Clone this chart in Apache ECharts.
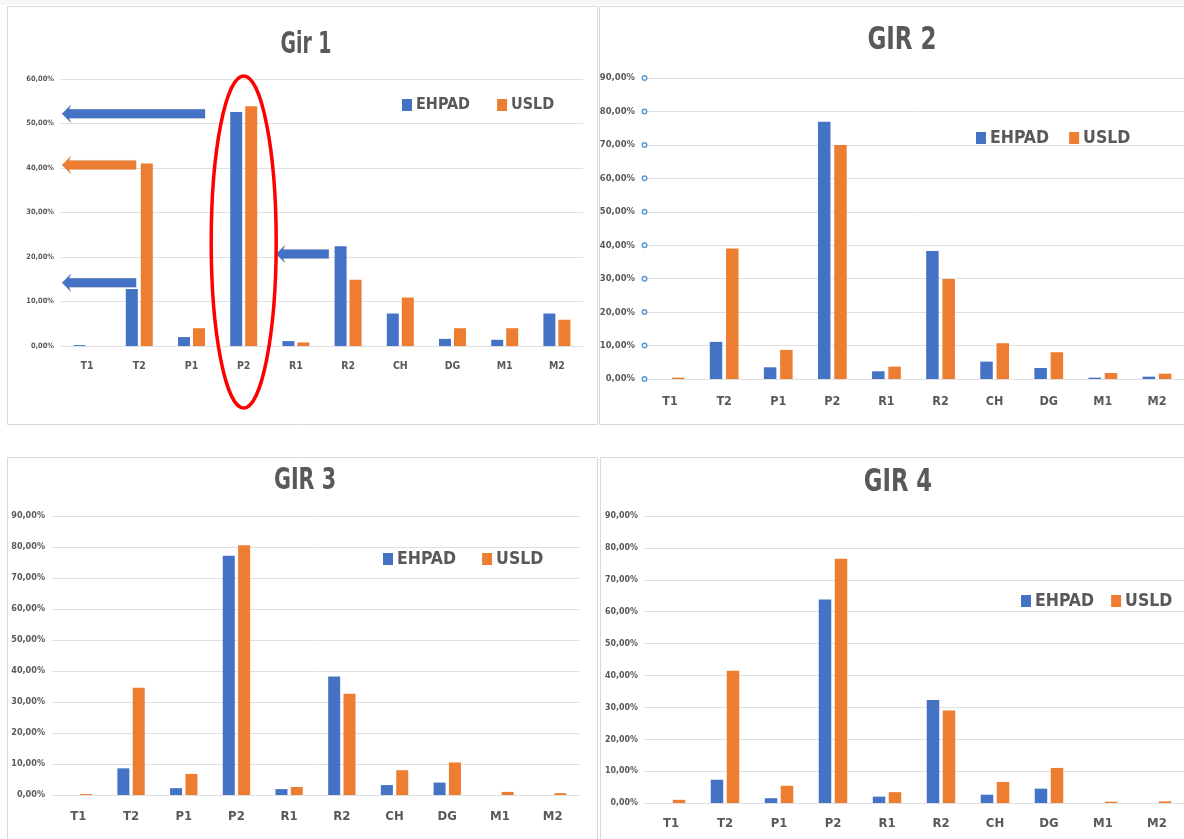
<!DOCTYPE html>
<html>
<head>
<meta charset="utf-8">
<script src="https://cdn.jsdelivr.net/npm/echarts@6/dist/echarts.min.js"></script>
<style>
html,body{margin:0;padding:0;background:#fff;}
#chart{width:1184px;height:839px;}
</style>
</head>
<body>
<div id="chart"></div>
<script>
// ---------- data ----------
const categories = ['T1','T2','P1','P2','R1','R2','CH','DG','M1','M2'];
const seriesNames = ['EHPAD','USLD'];
const panelTitles = ['Gir 1','GIR 2','GIR 3','GIR 4'];
const axisMax = [60, 90, 90, 90];
const axisStep = [10, 10, 10, 10];

const gir1Ehpad = [0.2, 12.8, 2.0, 52.6, 1.1, 22.4, 7.3, 1.6, 1.4, 7.3];
const gir1Usld  = [0.0, 41.0, 4.0, 53.9, 0.8, 14.9, 10.9, 4.0, 4.0, 5.9];
const gir2Ehpad = [0.0, 11.1, 3.5, 76.9, 2.3, 38.3, 5.2, 3.3, 0.4, 0.7];
const gir2Usld  = [0.4, 39.0, 8.7, 70.0, 3.7, 29.9, 10.7, 8.0, 1.8, 1.6];
const gir3Ehpad = [0.0, 8.6, 2.2, 77.2, 1.9, 38.2, 3.2, 4.0, 0.0, 0.0];
const gir3Usld  = [0.3, 34.6, 6.8, 80.6, 2.6, 32.7, 8.0, 10.5, 1.0, 0.6];
const gir4Ehpad = [0.0, 7.3, 1.5, 63.8, 2.0, 32.3, 2.6, 4.5, 0.0, 0.0];
const gir4Usld  = [1.0, 41.5, 5.4, 76.6, 3.4, 29.0, 6.6, 11.0, 0.4, 0.5];

// annotation arrows on Gir 1: level (%), colour key, tail category, tip category
const gir1ArrowLevels = [52.2, 40.7, 14.2, 20.7];
const gir1ArrowColors = ['blue', 'orange', 'blue', 'blue'];
const gir1ArrowTail   = ['P2', 'T2', 'T2', 'R2'];
const gir1ArrowTip    = ['axis', 'axis', 'axis', 'R1'];
const gir1Highlight = 'P2';

// ---------- styles ----------
const FONT = "'DejaVu Sans Condensed','Liberation Sans Narrow','Open Sans',sans-serif";
const BLUE = '#4472C4', ORANGE = '#ED7D31', TXT = '#595959', GRID = '#E0E0E0';
const colorMap = {blue: BLUE, orange: ORANGE};

const layout = [
  {grid:{left:61, top:79, width:522, height:267}, yFont:7.4, yMargin:7, xFont:10.5, xMargin:15, bw:12, gap:'25%',
   title:{x:306, y:45, size:30, sx:0.7}, legend:{left:397, top:92, size:16, gap:27}, ring:false},
  {grid:{left:643, top:78, width:552, height:301}, yFont:9.4, yMargin:-3, xFont:12.5, xMargin:16, bw:12.5, gap:'30%',
   title:{x:902, y:41, size:32, sx:0.8}, legend:{left:971, top:124, size:17.5, gap:20}, ring:true},
  {grid:{left:52, top:516, width:527, height:279}, yFont:9, yMargin:7, xFont:13, xMargin:15, bw:12, gap:'28%',
   title:{x:305, y:481, size:31, sx:0.74}, legend:{left:378, top:545, size:17.5, gap:26}, ring:false},
  {grid:{left:644, top:516, width:544, height:287}, yFont:8.8, yMargin:6, xFont:13, xMargin:14.5, bw:12.5, gap:'28%',
   title:{x:898, y:483, size:32, sx:0.79}, legend:{left:1016, top:587, size:17.5, gap:17}, ring:false}
];
const panelData = [[gir1Ehpad, gir1Usld],[gir2Ehpad, gir2Usld],[gir3Ehpad, gir3Usld],[gir4Ehpad, gir4Usld]];

function fmt(v){ return v.toFixed(2).replace('.', ',') + '%'; }

const option = {
  animation: false,
  backgroundColor: '#fff',
  grid: [], xAxis: [], yAxis: [], series: [], legend: []
};

layout.forEach((L, i) => {
  option.grid.push(Object.assign({containLabel:false}, L.grid));
  option.xAxis.push({
    type:'category', gridIndex:i, data:categories,
    axisTick:{show:false},
    axisLine:{lineStyle:{color:GRID, width:1}},
    axisLabel:{color:TXT, fontFamily:FONT, fontWeight:'bold', fontSize:L.xFont, margin:L.xMargin, interval:0}
  });
  const yLabel = {color:TXT, fontFamily:FONT, fontWeight:'bold', fontSize:L.yFont, margin:L.yMargin};
  if (L.ring) {
    yLabel.formatter = v => '{v|' + fmt(v) + '}{g|}{c|}';
    yLabel.rich = {
      v:{color:TXT, fontFamily:FONT, fontWeight:'bold', fontSize:L.yFont},
      g:{width:8},
      c:{width:3, height:3, borderColor:'#5B9BD5', borderWidth:1.5, borderRadius:4, backgroundColor:'#fff'}
    };
  } else {
    yLabel.formatter = v => fmt(v);
  }
  option.yAxis.push({
    type:'value', gridIndex:i, min:0, max:axisMax[i], interval:axisStep[i],
    axisLine:{show:false}, axisTick:{show:false},
    splitLine:{lineStyle:{color:GRID, width:1}},
    axisLabel:yLabel
  });
  seriesNames.forEach((nm, k) => {
    option.series.push({
      name:nm, type:'bar', xAxisIndex:i, yAxisIndex:i,
      data:panelData[i][k], barWidth:L.bw, barGap:L.gap,
      itemStyle:{color: k===0 ? BLUE : ORANGE},
      emphasis:{disabled:true}
    });
  });
  option.legend.push({
    data:seriesNames, left:L.legend.left, top:L.legend.top, orient:'horizontal', width:400,
    icon:'rect', itemWidth:10, itemHeight:12, itemGap:L.legend.gap,
    textStyle:{color:TXT, fontFamily:FONT, fontWeight:'bold', fontSize:L.legend.size, padding:[0,0,0,-1]},
    selectedMode:false
  });
});

const chart = echarts.init(document.getElementById('chart'), null, {renderer:'canvas'});
chart.setOption(option);

// ---------- decorations (frames, titles, Gir 1 annotations) ----------
const els = [];
els.push({type:'rect', shape:{x:0, y:0, width:1184, height:5}, style:{fill:'#F6F6F6'}, z:0});
[[7.5,6.5,590,418],[599.5,6.5,600,418],[7.5,457.5,590,400],[600.5,457.5,600,400]].forEach(r => {
  els.push({type:'rect', shape:{x:r[0], y:r[1], width:r[2], height:r[3]}, style:{fill:'none', stroke:'#D9D9D9', lineWidth:1}, z:0});
});
layout.forEach((L, i) => {
  els.push({type:'text', x:L.title.x, y:L.title.y, scaleX:L.title.sx, z:10,
    style:{text:panelTitles[i], fill:TXT, font:'bold ' + L.title.size + 'px ' + FONT, textAlign:'center', textVerticalAlign:'middle'}});
});

function px(cat, val){ return chart.convertToPixel({xAxisIndex:0, yAxisIndex:0}, [cat, val]); }
const catW = layout[0].grid.width / categories.length;
const axisLeft = layout[0].grid.left;
gir1ArrowLevels.forEach((lv, j) => {
  const p = px(gir1ArrowTail[j], lv);
  const y = p[1];
  let tail, tip;
  if (gir1ArrowTail[j] === 'P2') tail = p[0] - catW * 0.74;
  else if (gir1ArrowTail[j] === 'R2') tail = p[0] - catW * 0.37;
  else tail = p[0] - catW * 0.06;
  tip = gir1ArrowTip[j] === 'axis' ? axisLeft + 1 : px(gir1ArrowTip[j], lv)[0] - catW * 0.38;
  const hl = 9, hh = 9, bh = 4.5;
  els.push({type:'polygon', z:20, shape:{points:[
    [tip, y], [tip+hl, y-hh], [tip+hl-2, y-bh], [tail, y-bh], [tail, y+bh], [tip+hl-2, y+bh], [tip+hl, y+hh]
  ]}, style:{fill:colorMap[gir1ArrowColors[j]], stroke:'rgba(0,0,0,0.15)', lineWidth:0.5}});
});
const hp = px(gir1Highlight, 0);
els.push({type:'ellipse', z:20, shape:{cx:hp[0], cy:hp[1] - 104, rx:32.5, ry:166},
  style:{fill:'none', stroke:'#FF0000', lineWidth:3.5}});

chart.setOption({graphic:{elements:els}});
</script>
</body>
</html>
